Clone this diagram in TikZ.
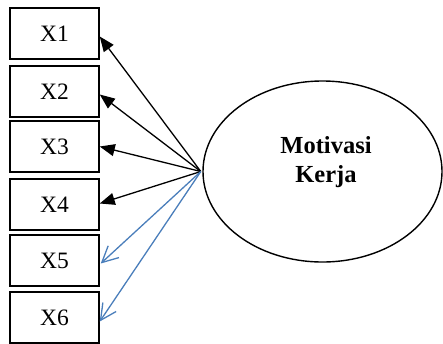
\documentclass[tikz,border=0pt]{standalone}
\usepackage{fontspec}
\setmainfont{Liberation Serif}
\usetikzlibrary{arrows.meta,shapes.geometric}
\definecolor{arrowblue}{HTML}{4A7EBB}
\begin{document}
\begin{tikzpicture}[x=1pt,y=-1pt,
  itembox/.style={draw=black,line width=1.5pt,minimum width=89pt,minimum height=51pt,inner sep=0pt,
    font=\fontsize{23.5}{28}\selectfont},
  blackarrow/.style={draw=black,line width=1.3pt,-{Triangle[length=15pt,width=12pt]}},
  bluearrow/.style={draw=arrowblue,line width=1.3pt,-{Straight Barb[length=16pt,width=16pt,line width=1.3pt]}}
]
\useasboundingbox (0,0) rectangle (443,343);
\node[itembox] (x1) at (54.5,33.5) {X1};
\node[itembox] (x2) at (54.5,91.5) {X2};
\node[itembox] (x3) at (54.5,146.5) {X3};
\node[itembox] (x4) at (54.5,204.5) {X4};
\node[itembox] (x5) at (54.5,260.5) {X5};
\node[itembox] (x6) at (54.5,317.5) {X6};
\node[draw=black,line width=1.4pt,ellipse,minimum width=239pt,minimum height=181pt,inner sep=0pt] (mk) at (322.5,171.5) {};
\node[align=center,font=\fontsize{24.5}{29}\selectfont\bfseries] (mklabel) at (326,162) {Motivasi\\Kerja};
\coordinate (src) at ([xshift=-1.5pt]mk.west);
\draw[blackarrow] (src) -- ([yshift=-3pt]x1.east);
\draw[blackarrow] (src) -- ([yshift=-3pt]x2.east);
\draw[blackarrow] (src) -- (x3.east);
\draw[blackarrow] (src) -- ([yshift=1pt]x4.east);
\draw[bluearrow] (src) -- ([xshift=1pt,yshift=-3pt]x5.east);
\draw[bluearrow] (src) -- ([yshift=-4pt]x6.east);
\end{tikzpicture}
\end{document}
